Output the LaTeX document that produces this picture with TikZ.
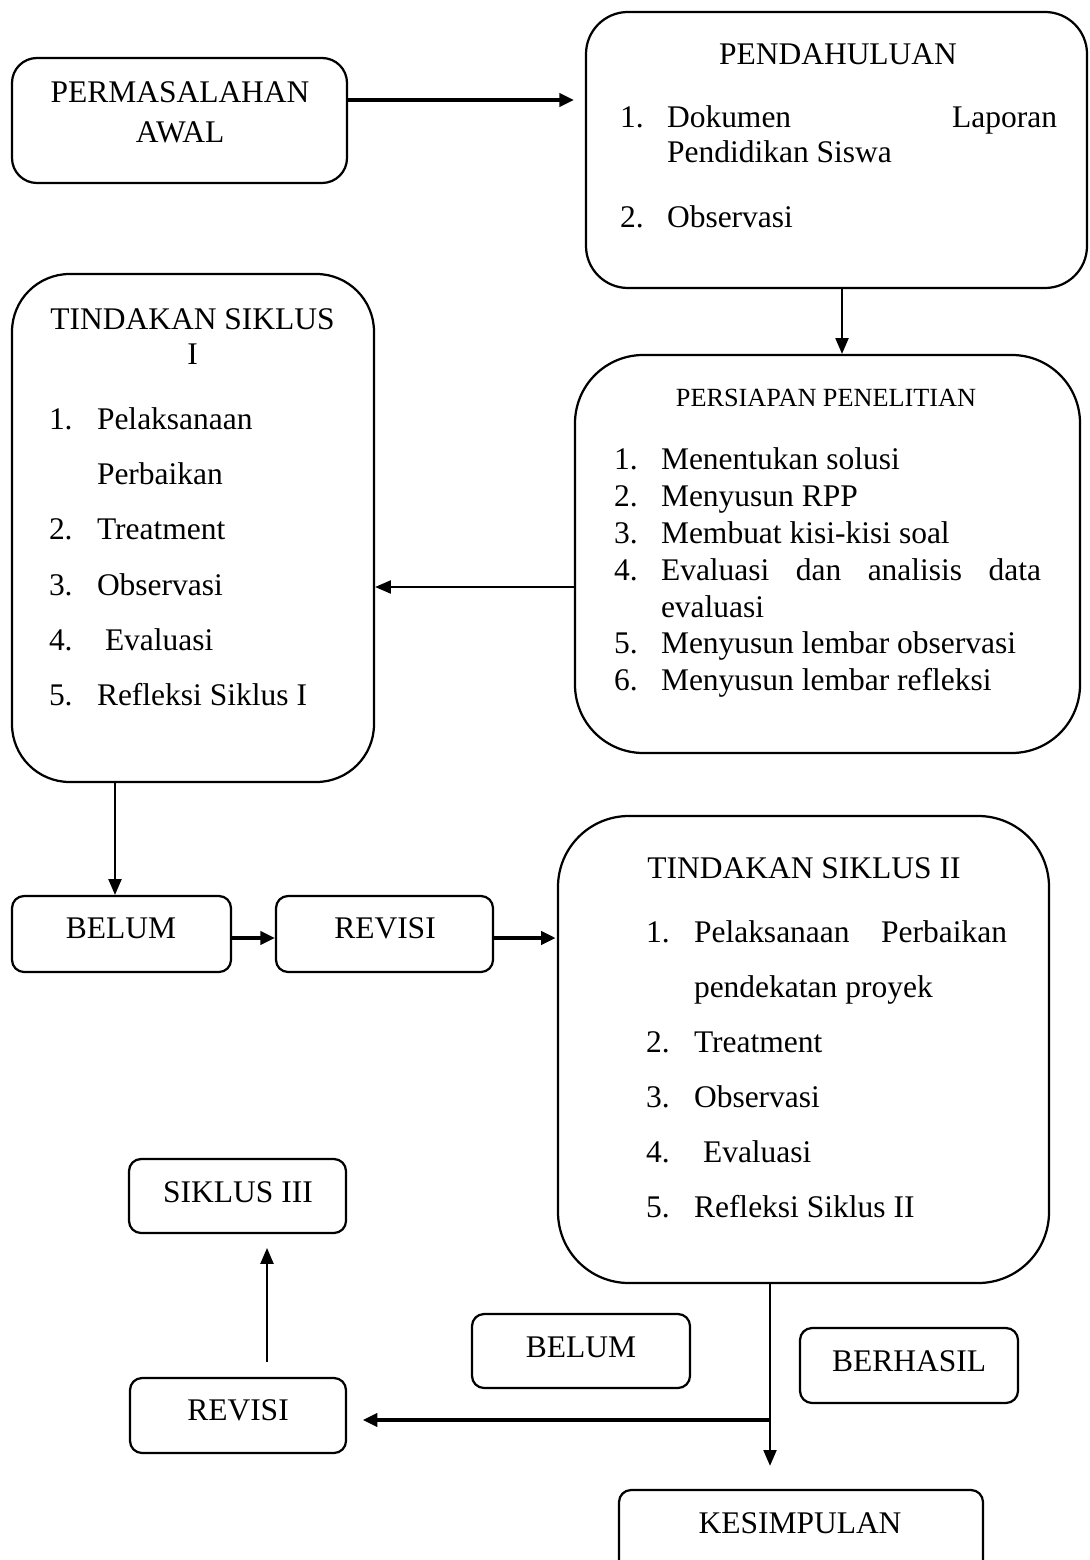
\documentclass[tikz,border=0pt]{standalone}
\usepackage{fontspec}
\setmainfont{Liberation Serif}
\usetikzlibrary{arrows.meta,fit}
\begin{document}
\begin{tikzpicture}[x=0.381pt,y=-0.381pt,
  box/.style={draw,line width=0.85pt,inner sep=0pt},
  txt/.style={inner sep=0pt,outer sep=0pt,font=\fontsize{12}{14}\selectfont},
  ctxt/.style={txt,anchor=base},
  ltxt/.style={txt,anchor=base west},
  arr/.style={line width=0.6pt,-{Triangle[length=6pt,width=5pt]}},
  thickarr/.style={line width=1.3pt,-{Triangle[length=5.5pt,width=5pt]}}]
\useasboundingbox (0,0) rectangle (1089,1560);

% ---------- boxes ----------
\node[box,rounded corners=9.5pt,fit={(12,58) (347,183)}] (perm) {};
\node[box,rounded corners=16pt,fit={(586,12) (1087,288)}] (pend) {};
\node[box,rounded corners=22pt,fit={(12,274) (374,782)}] (t1) {};
\node[box,rounded corners=26pt,fit={(575,355) (1080,753)}] (pers) {};
\node[box,rounded corners=4.6pt,fit={(12,896) (231,972)}] (belum1) {};
\node[box,rounded corners=4.6pt,fit={(276,896) (493,972)}] (revisi1) {};
\node[box,rounded corners=27pt,fit={(558,816) (1049,1283)}] (t2) {};
\node[box,rounded corners=4.6pt,fit={(129,1159) (346,1233)}] (siklus3) {};
\node[box,rounded corners=4.6pt,fit={(472,1314) (690,1388)}] (belum2) {};
\node[box,rounded corners=4.6pt,fit={(800,1328) (1018,1403)}] (berhasil) {};
\node[box,rounded corners=4.6pt,fit={(130,1378) (346,1453)}] (revisi2) {};
\node[box,rounded corners=4.6pt,fit={(619,1490) (983,1590)}] (kesim) {};

% ---------- texts ----------
\node[ctxt] (permA) at (180,103) {PERMASALAHAN};
\node[ctxt] (permB) at (180,143) {AWAL};

\node[ctxt] (pendH) at (838,65) {PENDAHULUAN};
\node[ltxt] (pendN1) at (620,128) {1.};
\node[ltxt] (pendI1) at (667,128) {\makebox[148.6pt][s]{Dokumen Laporan}};
\node[ltxt] (pendI1b) at (667,163) {Pendidikan Siswa};
\node[ltxt] (pendN2) at (620,228) {2.};
\node[ltxt] (pendI2) at (667,228) {Observasi};

\node[ctxt] (t1H) at (192.5,330) {TINDAKAN SIKLUS};
\node[ctxt] (t1Hb) at (192.5,365) {I};
\node[ltxt] (t1N1) at (49,430) {1.};
\node[ltxt] (t1I1) at (97,430) {Pelaksanaan};
\node[ltxt] (t1I1b) at (97,485) {Perbaikan};
\node[ltxt] (t1N2) at (49,540) {2.};
\node[ltxt] (t1I2) at (97,540) {Treatment};
\node[ltxt] (t1N3) at (49,595) {3.};
\node[ltxt] (t1I3) at (97,595) {Observasi};
\node[ltxt] (t1N4) at (49,650) {4.};
\node[ltxt] (t1I4) at (105,650) {Evaluasi};
\node[ltxt] (t1N5) at (49,705) {5.};
\node[ltxt] (t1I5) at (97,705) {Refleksi Siklus I};

\node[ctxt,font=\fontsize{10}{12}\selectfont] (persH) at (826,407) {PERSIAPAN PENELITIAN};
\node[ltxt] (persN1) at (614,470) {1.};
\node[ltxt] (persI1) at (661,470) {Menentukan solusi};
\node[ltxt] (persN2) at (614,507) {2.};
\node[ltxt] (persI2) at (661,507) {Menyusun RPP};
\node[ltxt] (persN3) at (614,543) {3.};
\node[ltxt] (persI3) at (661,543) {Membuat kisi-kisi soal};
\node[ltxt] (persN4) at (614,580) {4.};
\node[ltxt] (persI4) at (661,580) {\makebox[144.8pt][s]{Evaluasi dan analisis data}};
\node[ltxt] (persI4b) at (661,617) {evaluasi};
\node[ltxt] (persN5) at (614,653) {5.};
\node[ltxt] (persI5) at (661,653) {Menyusun lembar observasi};
\node[ltxt] (persN6) at (614,690) {6.};
\node[ltxt] (persI6) at (661,690) {Menyusun lembar refleksi};

\node[ctxt] (belum1T) at (121,938) {BELUM};
\node[ctxt] (revisi1T) at (385,938) {REVISI};

\node[ctxt] (t2H) at (804,878) {TINDAKAN SIKLUS II};
\node[ltxt] (t2N1) at (646,942) {1.};
\node[ltxt] (t2I1) at (694,942) {\makebox[119.3pt][s]{Pelaksanaan Perbaikan}};
\node[ltxt] (t2I1b) at (694,997) {pendekatan proyek};
\node[ltxt] (t2N2) at (646,1052) {2.};
\node[ltxt] (t2I2) at (694,1052) {Treatment};
\node[ltxt] (t2N3) at (646,1107) {3.};
\node[ltxt] (t2I3) at (694,1107) {Observasi};
\node[ltxt] (t2N4) at (646,1162) {4.};
\node[ltxt] (t2I4) at (703,1162) {Evaluasi};
\node[ltxt] (t2N5) at (646,1217) {5.};
\node[ltxt] (t2I5) at (694,1217) {Refleksi Siklus II};

\node[ctxt] (siklus3T) at (238,1202) {SIKLUS III};
\node[ctxt] (belum2T) at (581,1357) {BELUM};
\node[ctxt] (berhasilT) at (909,1371) {BERHASIL};
\node[ctxt] (revisi2T) at (238,1420) {REVISI};
\node[ctxt] (kesimT) at (800,1533) {KESIMPULAN};

% ---------- connectors ----------
\coordinate (junc) at (770,1420);
\draw[thickarr,shorten >=4.2pt] (perm.east |- 0,100) -- (pend.west |- 0,100);
\draw[arr] (pend.south -| 842,0) -- (pers.north -| 842,0);
\draw[arr] (pers.west |- 0,587) -- (t1.east |- 0,587);
\draw[arr] (t1.south -| 115,0) -- (belum1.north -| 115,0);
\draw[thickarr] (belum1.east |- 0,938) -- (revisi1.west |- 0,938);
\draw[thickarr,shorten >=0.5pt] (revisi1.east |- 0,938) -- (t2.west |- 0,938);
\draw[arr,shorten >=8.8pt] (t2.south -| junc) -- (kesim.north -| junc);
\draw[thickarr,shorten >=6pt] (junc) -- (revisi2.east |- junc);
\draw[arr,shorten <=5.7pt,shorten >=5.3pt] (revisi2.north -| 267,0) -- (siklus3.south -| 267,0);
\end{tikzpicture}
\end{document}
